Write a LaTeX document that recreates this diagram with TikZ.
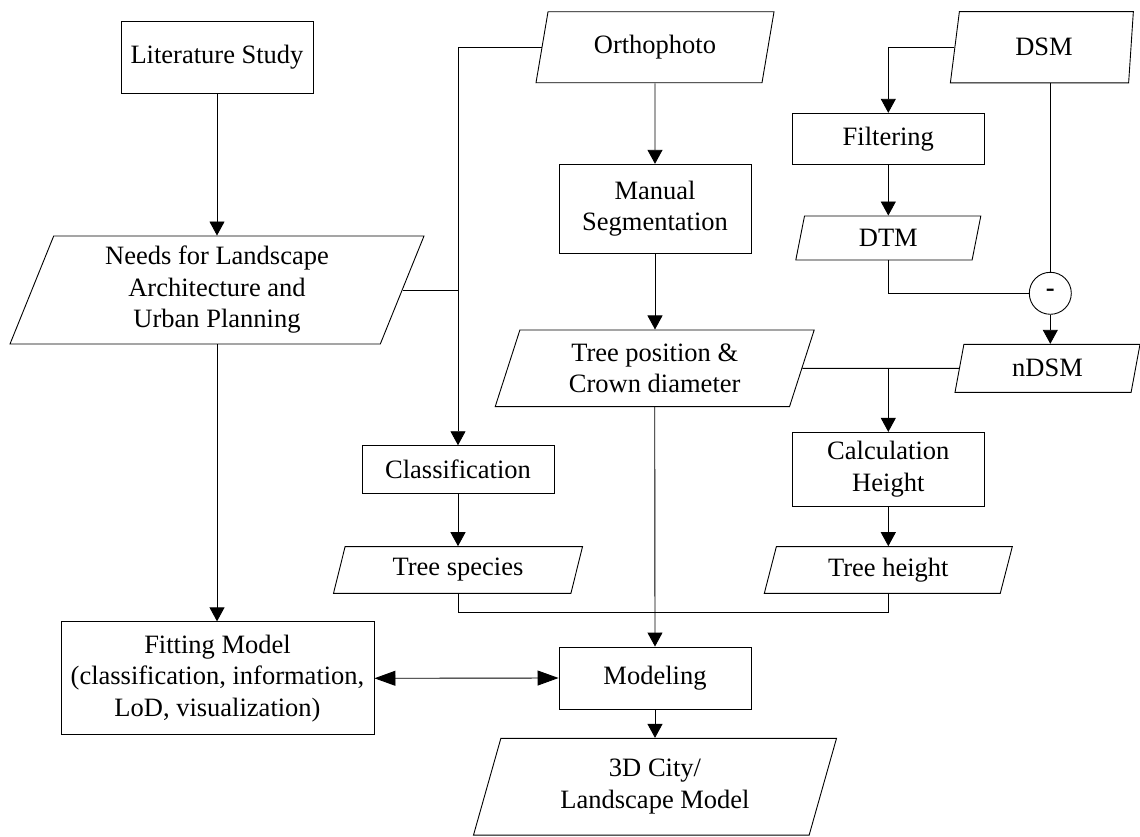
\documentclass[tikz,border=0pt]{standalone}
\usepackage{fontspec}
\setmainfont{Liberation Serif}
\usetikzlibrary{shapes.geometric,arrows.meta,calc}
\begin{document}
\begin{tikzpicture}[x=1pt,y=-1pt,
  font=\fontsize{26.5}{31.5}\selectfont,
  line width=0.9pt,
  proc/.style={draw, rectangle, inner sep=0pt, align=center},
  io/.style={draw, trapezium, trapezium left angle=63.43, trapezium right angle=116.57,
             trapezium stretches body=true, inner sep=0pt, align=center},
  arr/.style={-{Triangle[length=14pt,width=15pt]}},
  darr/.style={{Triangle[length=21pt,width=15pt]}-{Triangle[length=21pt,width=15pt]}}]
\useasboundingbox (0,0) rectangle (1140,837);

\node[proc, minimum width=192pt, minimum height=72pt] (lit) at (217,57) {Literature Study};
\node[io, minimum width=414pt, minimum height=108pt] (needs) at (217,290) {Needs for Landscape\\Architecture and\\Urban Planning};
\node[proc, minimum width=313pt, minimum height=113pt] (fit) at (217.5,678.3) {Fitting Model\\(classification, information,\\LoD, visualization)};

\node[io, minimum width=238pt, minimum height=71pt] (ortho) at (655,47.3) {Orthophoto};
\node[proc, minimum width=192pt, minimum height=89pt] (seg) at (655,208.8) {Manual\\Segmentation};
\node[io, minimum width=319pt, minimum height=76.7pt] (tpos) at (654.7,368.3) {Tree position \&\\Crown diameter};
\node[proc, minimum width=192pt, minimum height=47.6pt] (cls) at (458,469.5) {Classification};
\node[io, minimum width=249pt, minimum height=46.7pt] (spec) at (458,570) {Tree species};
\node[proc, minimum width=192pt, minimum height=62pt] (mod) at (655,678) {Modeling};
\node[io, minimum width=363pt, minimum height=96.7pt] (city) at (655,786.7) {3D City/\\Landscape Model};

\node[draw, trapezium, trapezium left angle=63.1, trapezium right angle=104.9,
      trapezium stretches body=true, inner sep=0pt, minimum width=183pt, minimum height=71.3pt] (dsm) at (1044,47.3) {DSM};
\node[proc, minimum width=192pt, minimum height=51pt] (filt) at (888.3,138.8) {Filtering};
\node[io, minimum width=185pt, minimum height=44pt] (dtm) at (888.3,238) {DTM};
\node[draw, circle, inner sep=0pt, minimum size=42pt] (minus) at (1050.3,293.3) {\textbf{-}};
\node[io, minimum width=185pt, minimum height=48pt] (ndsm) at (1047.5,368.3) {nDSM};
\node[proc, minimum width=192pt, minimum height=73.7pt] (calc) at (888.3,469.2) {Calculation\\Height};
\node[io, minimum width=248pt, minimum height=46.7pt] (th) at (888.3,570) {Tree height};

\coordinate (jn) at (655,612.7);

% left column
\draw[arr] (lit.south) -- (lit.south |- needs.north);
\draw[arr] (needs.south) -- (needs.south |- fit.north);
\draw[darr] (fit.east) -- (mod.west);

% orthophoto branch
\draw[arr] (ortho.south) -- (seg.north);
\draw[arr] (seg.south) -- (seg.south |- tpos.north);
\draw[arr] (ortho.west) -| (cls.north);
\draw (needs.east) -- (needs.east -| cls.north);
\draw[arr] (cls.south) -- (cls.south |- spec.north);
\draw[arr] (tpos.south) -- (mod.north);
\draw (spec.south) |- (jn) -| (th.south);
\draw[arr] (mod.south) -- (mod.south |- city.north);

% DSM branch
\draw[arr] (dsm.west) -| (filt.north);
\draw[arr] (filt.south) -- (filt.south |- dtm.north);
\draw (dtm.south) |- (minus.west);
\draw (minus |- dsm.south) -- (minus.north);
\draw[arr] (minus.south) -- (minus.south |- ndsm.north);
\draw (tpos.east) -- (ndsm.west);
\draw[arr] (tpos.east -| calc.north) -- (calc.north);
\draw[arr] (calc.south) -- (calc.south |- th.north);
\end{tikzpicture}
\end{document}
